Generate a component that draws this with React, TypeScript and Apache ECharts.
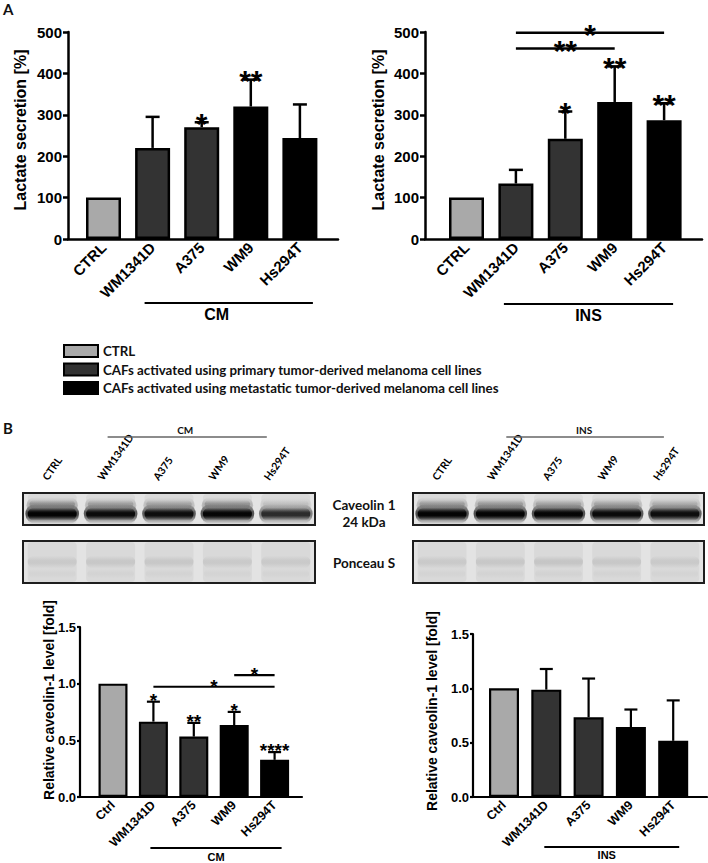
import React, { useEffect, useRef } from 'react';
import * as echarts from 'echarts';

// ---------------- DATA ----------------
const categoriesA = ['CTRL', 'WM1341D', 'A375', 'WM9', 'Hs294T'];
const categoriesB = ['Ctrl', 'WM1341D', 'A375', 'WM9', 'Hs294T'];
const laneLabels = ['CTRL', 'WM1341D', 'A375', 'WM9', 'Hs294T'];
const groupNames = [
  'CTRL',
  'CAFs activated using primary tumor-derived melanoma cell lines',
  'CAFs activated using metastatic tumor-derived melanoma cell lines',
];
const groupOfCategory = [0, 1, 1, 2, 2];
const groupColors = ['#a9a9a9', '#333333', '#000000'];

const lactateTicks = [0, 500, 100];
const caveolinTicks = [0, 1.5, 0.5];

const lactateCM = [100, 220, 270, 320, 244];
const lactateCMErr = [0, 75, 12, 65, 81];
const lactateCMStars = ['', '', '*', '**', ''];
const lactateCMBrackets: any[] = [];

const lactateINS = [100, 134, 242, 331, 287];
const lactateINSErr = [0, 33, 66, 86, 41];
const lactateINSStars = ['', '', '*', '**', '**'];
const lactateINSBrackets = [
  { from: 1, to: 3, y: 460, label: '**' },
  { from: 1, to: 4, y: 498, label: '*' },
];

const caveolinCM = [1.0, 0.665, 0.533, 0.635, 0.328];
const caveolinCMErr = [0, 0.176, 0.121, 0.116, 0.068];
const caveolinCMStars = ['', '*', '**', '*', '****'];
const caveolinCMBrackets = [
  { from: 1, to: 4, y: 0.973, label: '*' },
  { from: 3, to: 4, y: 1.076, label: '*' },
];

const caveolinINS = [1.0, 0.988, 0.734, 0.644, 0.517];
const caveolinINSErr = [0, 0.19, 0.356, 0.161, 0.372];
const caveolinINSStars = ['', '', '', '', ''];
const caveolinINSBrackets: any[] = [];

// western blot band intensities (0..1)
const cavUpperCM = [0.75, 0.6, 0.55, 0.72, 0.25];
const cavLowerCM = [1.0, 0.92, 0.9, 0.97, 0.68];
const cavUpperINS = [0.65, 0.65, 0.55, 0.55, 0.45];
const cavLowerINS = [1.0, 1.0, 0.98, 0.93, 0.9];
const ponceauCM = [0.35, 0.4, 0.4, 0.35, 0.35];
const ponceauINS = [0.35, 0.4, 0.45, 0.4, 0.35];

// ---------------- LAYOUT ----------------
const FONT = 'Liberation Sans, Arial, Helvetica, sans-serif';
const FONT2 = 'Lato, Open Sans, sans-serif';

const panelLayout = [
  { left: 68, top: 32, width: 270, height: 207, c0: 103.5, step: 49.1, barWidth: 35, lw: 2.5, capHalf: 7, starSize: 30, starGap: 6,
    xLabelSize: 15, yLabelSize: 15, tickLen: 5, labelMargin: 6, nameGap: 40, nameSize: 16, nameShift: 11,
    groupDy: 64, groupTextDy: 75, groupPadL: -8, groupPadR: 13, groupTextDx: -12, groupFont: 16 },
  { left: 425, top: 32, width: 277, height: 207, c0: 466.5, step: 49.4, barWidth: 35, lw: 2.5, capHalf: 7, starSize: 30, starGap: 6,
    xLabelSize: 15, yLabelSize: 15, tickLen: 5, labelMargin: 6, nameGap: 39, nameSize: 16, nameShift: 11,
    groupDy: 65, groupTextDy: 76, groupPadL: -12, groupPadR: 9, groupTextDx: 0, groupFont: 16 },
  { left: 80, top: 627, width: 222, height: 170, c0: 113, step: 40.4, barWidth: 29, lw: 2.2, capHalf: 6.5, starSize: 19, starGap: 6,
    xLabelSize: 12.5, yLabelSize: 13, tickLen: 3, labelMargin: 4, nameGap: 24, nameSize: 14, nameShift: 24,
    groupDy: 51, groupTextDy: 60, groupPadL: -3, groupPadR: 7, groupTextDx: 0, groupFont: 11 },
  { left: 473, top: 634, width: 234, height: 163, c0: 504, step: 42.3, barWidth: 30, lw: 2.2, capHalf: 6.5, starSize: 19, starGap: 6,
    xLabelSize: 12.5, yLabelSize: 13, tickLen: 3, labelMargin: 4, nameGap: 34, nameSize: 14, nameShift: 9,
    groupDy: 50, groupTextDy: 58, groupPadL: -2, groupPadR: 6, groupTextDx: -5, groupFont: 11 },
];

const blotLayout = [
  { left: 23, top: 493, width: 292, height: 32 },
  { left: 23, top: 541, width: 292, height: 42 },
  { left: 413, top: 493, width: 291, height: 32 },
  { left: 413, top: 541, width: 291, height: 42 },
];
const blotGroupLayout = [
  { padL: -3, padR: -19, textDx: -2 },
  { padL: 6, padR: -11, textDx: -1 },
];

const panels = [
  { cats: categoriesA, values: lactateCM, err: lactateCMErr, stars: lactateCMStars, brackets: lactateCMBrackets, ticks: lactateTicks, group: 'CM', name: 'Lactate secretion [%]', fmt: (v: number) => String(v) },
  { cats: categoriesA, values: lactateINS, err: lactateINSErr, stars: lactateINSStars, brackets: lactateINSBrackets, ticks: lactateTicks, group: 'INS', name: 'Lactate secretion [%]', fmt: (v: number) => String(v) },
  { cats: categoriesB, values: caveolinCM, err: caveolinCMErr, stars: caveolinCMStars, brackets: caveolinCMBrackets, ticks: caveolinTicks, group: 'CM', name: 'Relative caveolin-1 level [fold]', fmt: (v: number) => v.toFixed(1) },
  { cats: categoriesB, values: caveolinINS, err: caveolinINSErr, stars: caveolinINSStars, brackets: caveolinINSBrackets, ticks: caveolinTicks, group: 'INS', name: 'Relative caveolin-1 level [fold]', fmt: (v: number) => v.toFixed(1) },
];

const empty = () => ({ type: 'group', children: [] });

function buildOption() {
  const grid: any[] = [];
  const xAxis: any[] = [];
  const yAxis: any[] = [];
  const series: any[] = [];

  panels.forEach((p, pi) => {
    const L = panelLayout[pi];
    grid.push({ left: L.left, top: L.top, width: L.width, height: L.height, outerBoundsMode: 'none', containLabel: false });
    xAxis.push({
      gridIndex: pi, type: 'value',
      min: (L.left - L.c0) / L.step, max: (L.left + L.width - L.c0) / L.step,
      axisLine: { show: true, onZero: false, lineStyle: { color: '#000', width: L.lw } },
      axisTick: { show: false },
      splitLine: { show: false },
      axisLabel: {
        customValues: p.cats.map((_, i) => i),
        formatter: (v: number) => p.cats[Math.round(v)] ?? '',
        rotate: 45, color: '#000', fontSize: L.xLabelSize, fontWeight: 'bold', fontFamily: FONT, margin: 6,
      },
    });
    yAxis.push({
      gridIndex: pi, type: 'value', min: p.ticks[0], max: p.ticks[1], interval: p.ticks[2],
      axisLine: { show: true, onZero: false, lineStyle: { color: '#000', width: L.lw } },
      axisTick: { show: true, length: L.tickLen, lineStyle: { color: '#000', width: L.lw } },
      splitLine: { show: false },
      axisLabel: { color: '#000', fontSize: L.yLabelSize, fontWeight: 'bold', fontFamily: FONT, margin: L.labelMargin, formatter: p.fmt },
      name: p.name, nameLocation: 'middle', nameRotate: 90, nameGap: L.nameGap, nameMoveOverlap: false,
      nameTextStyle: { color: '#000', fontSize: L.nameSize, fontWeight: 'bold', fontFamily: FONT, padding: [0, 0, 0, L.nameShift] },
    });

    groupNames.forEach((name, g) => {
      series.push({
        type: 'bar', name, xAxisIndex: pi, yAxisIndex: pi, barWidth: L.barWidth, barGap: '-100%',
        data: p.values.map((v, i) => (groupOfCategory[i] === g ? [i, v] : null)).filter(Boolean),
        itemStyle: { color: groupColors[g], borderColor: '#000', borderWidth: L.lw },
        silent: true, z: 2,
      });
    });

    // error bars (upper SD)
    series.push({
      type: 'custom', xAxisIndex: pi, yAxisIndex: pi, clip: false, silent: true, z: 3,
      data: p.values.map((v, i) => [i, v]),
      renderItem: (params: any, api: any) => {
        const i = params.dataIndex;
        const e = p.err[i];
        if (!e) return empty();
        const m = p.values[i];
        const a = api.coord([i, m]);
        const b = api.coord([i, m + e]);
        const st = { stroke: '#000', lineWidth: L.lw };
        return {
          type: 'group', children: [
            { type: 'line', shape: { x1: a[0], y1: a[1], x2: b[0], y2: b[1] }, style: st },
            { type: 'line', shape: { x1: b[0] - L.capHalf, y1: b[1], x2: b[0] + L.capHalf, y2: b[1] }, style: st },
          ],
        };
      },
    });

    // significance stars
    series.push({
      type: 'custom', xAxisIndex: pi, yAxisIndex: pi, clip: false, silent: true, z: 4,
      data: p.values.map((v, i) => [i, v + p.err[i]]),
      renderItem: (params: any, api: any) => {
        const i = params.dataIndex;
        const label = p.stars[i];
        if (!label) return empty();
        const c = api.coord([i, p.values[i] + p.err[i]]);
        return {
          type: 'text', x: c[0], y: c[1] - L.starGap + 0.23 * L.starSize,
          style: { text: label, fill: '#000', fontSize: L.starSize, fontWeight: 'bold', fontFamily: FONT, align: 'center', verticalAlign: 'middle' },
        };
      },
    });

    // comparison brackets
    if (p.brackets.length) {
      series.push({
        type: 'custom', xAxisIndex: pi, yAxisIndex: pi, clip: false, silent: true, z: 4,
        data: p.brackets.map((b: any) => [b.from, b.y]),
        renderItem: (params: any, api: any) => {
          const b = p.brackets[params.dataIndex];
          const a = api.coord([b.from, b.y]);
          const c = api.coord([b.to, b.y]);
          return {
            type: 'group', children: [
              { type: 'line', shape: { x1: a[0], y1: a[1], x2: c[0], y2: c[1] }, style: { stroke: '#000', lineWidth: L.lw } },
              { type: 'text', x: (a[0] + c[0]) / 2, y: a[1] - 5 + 0.23 * L.starSize,
                style: { text: b.label, fill: '#000', fontSize: L.starSize, fontWeight: 'bold', fontFamily: FONT, align: 'center', verticalAlign: 'middle' } },
            ],
          };
        },
      });
    }

    // group line under the axis labels
    series.push({
      type: 'custom', xAxisIndex: pi, yAxisIndex: pi, clip: false, silent: true, z: 4,
      data: [[1, p.ticks[0]]],
      renderItem: (params: any, api: any) => {
        const a = api.coord([1, p.ticks[0]]);
        const c = api.coord([4, p.ticks[0]]);
        const x1 = a[0] + L.groupPadL, x2 = c[0] + L.groupPadR;
        return {
          type: 'group', children: [
            { type: 'line', shape: { x1, y1: a[1] + L.groupDy, x2, y2: a[1] + L.groupDy }, style: { stroke: '#000', lineWidth: L.lw * 0.8 } },
            { type: 'text', x: (x1 + x2) / 2 + L.groupTextDx, y: a[1] + L.groupTextDy,
              style: { text: p.group, fill: '#000', fontSize: L.groupFont, fontWeight: 'bold', fontFamily: FONT, align: 'center', verticalAlign: 'middle' } },
          ],
        };
      },
    });
  });

  // ------- western blots -------
  const blotData = [
    { kind: 'cav', upper: cavUpperCM, lower: cavLowerCM },
    { kind: 'pon', upper: ponceauCM, lower: ponceauCM },
    { kind: 'cav', upper: cavUpperINS, lower: cavLowerINS },
    { kind: 'pon', upper: ponceauINS, lower: ponceauINS },
  ];
  blotData.forEach((b, bi) => {
    const gi = 4 + bi;
    const B = blotLayout[bi];
    grid.push({ left: B.left, top: B.top, width: B.width, height: B.height, show: true, backgroundColor: b.kind === 'cav' ? '#e4e4e4' : '#e3e3e3', borderColor: '#1e1e1e', borderWidth: 2, outerBoundsMode: 'none', containLabel: false });
    xAxis.push({
      gridIndex: gi, type: 'category', data: laneLabels, position: 'top', show: false,
      axisLine: { show: false, onZero: false }, axisTick: { show: false }, splitLine: { show: false }, axisLabel: { show: false },
    });
    yAxis.push({ gridIndex: gi, type: 'value', min: 0, max: 1, show: false, splitLine: { show: false }, axisLine: { onZero: false } });

    series.push({
      type: 'custom', xAxisIndex: gi, yAxisIndex: gi, silent: true, z: 2, clip: false,
      data: b.upper.map((u, i) => [i, u]),
      renderItem: (params: any, api: any) => {
        const i = params.dataIndex;
        const u = b.upper[i];
        const lo = b.lower[i];
        const cx = api.coord([i, 0])[0];
        const bw = api.size([1, 0])[0];
        const top = api.coord([i, 1])[1];
        const bot = api.coord([i, 0])[1];
        const h = bot - top;
        const band = (cy: number, bh: number, w: number, alpha: number, rgb: string) => ({
          type: 'rect',
          shape: { x: cx - w / 2, y: cy - bh / 2, width: w, height: bh, r: bh / 2 },
          style: {
            fill: new echarts.graphic.LinearGradient(0, 0, 0, 1, [
              { offset: 0, color: `rgba(${rgb},0)` },
              { offset: 0.4, color: `rgba(${rgb},${alpha})` },
              { offset: 0.6, color: `rgba(${rgb},${alpha})` },
              { offset: 1, color: `rgba(${rgb},0)` },
            ]),
          },
        });
        const children: any[] = [
          { type: 'rect', shape: { x: cx - bw * 0.42, y: top + 1, width: bw * 0.84, height: h - 2, r: 4 }, style: { fill: 'rgba(0,0,0,0.045)' } },
        ];
        if (b.kind === 'cav') {
          children.push(band(top + 0.38 * h, 0.5 * h, bw * 0.88, 0.35 * u, '70,70,70'));
          children.push(band(top + 0.36 * h, 0.28 * h, bw * 0.78, 0.35 * u, '60,60,60'));
          children.push(band(top + 0.65 * h, 0.62 * h, bw * 0.92, 0.7 * lo, '15,15,15'));
          children.push(band(top + 0.66 * h, 0.4 * h, bw * 0.84, 0.95 * lo, '0,0,0'));
          // lane label above the membrane
          children.push({
            type: 'text', x: cx - 3 - 3 * i, y: top - 11, rotation: (55 * Math.PI) / 180,
            style: { text: laneLabels[i], fill: '#000', fontSize: 10.5, fontWeight: 'bold', fontFamily: FONT2, align: 'left', verticalAlign: 'bottom' },
          });
        } else {
          children.push(band(top + 0.5 * h, 0.3 * h, bw * 0.84, 0.45 * u, '120,120,120'));
          children.push(band(top + 0.78 * h, 0.22 * h, bw * 0.8, 0.18 * u, '140,140,140'));
        }
        return { type: 'group', children };
      },
    });

    if (b.kind === 'cav') {
      const G = blotGroupLayout[bi === 0 ? 0 : 1];
      const label = bi === 0 ? 'CM' : 'INS';
      series.push({
        type: 'custom', xAxisIndex: gi, yAxisIndex: gi, clip: false, silent: true, z: 4,
        data: [[1, 1]],
        renderItem: (params: any, api: any) => {
          const a = api.coord([1, 1]);
          const c = api.coord([4, 1]);
          const x1 = a[0] + G.padL, x2 = c[0] + G.padR;
          return {
            type: 'group', children: [
              { type: 'line', shape: { x1, y1: a[1] - 56, x2, y2: a[1] - 56 }, style: { stroke: '#666', lineWidth: 1.3 } },
              { type: 'text', x: (x1 + x2) / 2 + G.textDx, y: a[1] - 63,
                style: { text: label, fill: '#111', fontSize: 10, fontWeight: 'bold', fontFamily: FONT2, align: 'center', verticalAlign: 'middle' } },
            ],
          };
        },
      });
    }
  });

  const txt = (text: string, x: number, y: number, size: number, align = 'center', weight: any = 'bold') => ({
    type: 'text', x, y,
    style: { text, fill: '#111', fontSize: size, fontWeight: weight, fontFamily: FONT2, align, verticalAlign: 'middle' },
  });

  return {
    animation: false,
    backgroundColor: '#ffffff',
    textStyle: { fontFamily: FONT },
    grid, xAxis, yAxis, series,
    legend: {
      data: groupNames, orient: 'vertical', left: 58, top: 339, icon: 'rect',
      itemWidth: 34, itemHeight: 12, itemGap: 4.5, selectedMode: false,
      itemStyle: { borderColor: '#000', borderWidth: 2 },
      textStyle: { color: '#111', fontSize: 13.3, fontWeight: 'bold', fontFamily: FONT2 },
    },
    graphic: [
      txt('A', 3, 9, 15, 'left'),
      txt('B', 3, 428, 15, 'left'),
      txt('Caveolin 1', 364, 505, 13.5),
      txt('24 kDa', 364, 522, 13.5),
      txt('Ponceau S', 364, 563, 13.5),
    ],
  };
}

export default function App() {
  const ref = useRef<HTMLDivElement>(null);
  useEffect(() => {
    if (!ref.current) return;
    const chart = echarts.init(ref.current, null, { renderer: 'svg' });
    chart.setOption(buildOption() as any);
    return () => chart.dispose();
  }, []);
  return <div ref={ref} style={{ position: 'absolute', left: 0, top: 0, width: 708, height: 863, background: '#fff' }} />;
}
